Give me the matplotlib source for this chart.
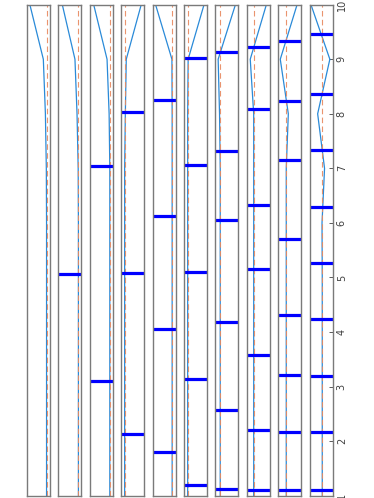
import matplotlib
matplotlib.use("Agg")
from matplotlib import pyplot as plt

# positions along the axis (1..10)
steps = [1, 2, 3, 4, 5, 6, 7, 8, 9, 10]

# reference (dashed) level of every panel
ref_level = [0.85, 0.87, 0.87, 0.15, 0.85, 0.16, 0.21, 0.30, 0.35, 0.55]

# solid curve of every panel, one value per step
curve = [
    [0.85, 0.85, 0.85, 0.85, 0.85, 0.85, 0.84, 0.80, 0.71, 0.125],
    [0.87, 0.87, 0.87, 0.87, 0.87, 0.87, 0.86, 0.81, 0.72, 0.17],
    [0.87, 0.87, 0.87, 0.87, 0.87, 0.87, 0.87, 0.84, 0.75, 0.17],
    [0.15, 0.15, 0.15, 0.15, 0.15, 0.15, 0.15, 0.18, 0.22, 0.87],
    [0.85, 0.85, 0.85, 0.85, 0.85, 0.85, 0.85, 0.85, 0.84, 0.13],
    [0.16, 0.16, 0.16, 0.16, 0.16, 0.16, 0.16, 0.16, 0.18, 0.87],
    [0.21, 0.21, 0.21, 0.21, 0.21, 0.21, 0.21, 0.18, 0.12, 0.87],
    [0.30, 0.30, 0.30, 0.30, 0.30, 0.30, 0.30, 0.30, 0.15, 0.85],
    [0.35, 0.35, 0.35, 0.35, 0.35, 0.35, 0.35, 0.44, 0.09, 0.82],
    [0.55, 0.55, 0.55, 0.55, 0.55, 0.54, 0.65, 0.35, 0.88, 0.06],
]

# blue markers (horizontal bars) of every panel
marks = [
    [],
    [5.06],
    [3.11, 7.05],
    [2.14, 5.08, 8.04],
    [1.81, 4.05, 6.12, 8.26],
    [1.19, 3.14, 5.10, 7.06, 9.03],
    [1.13, 2.58, 4.18, 6.06, 7.32, 9.13],
    [1.10, 2.20, 3.57, 5.15, 6.32, 8.09, 9.23],
    [1.10, 2.17, 3.22, 4.32, 5.70, 7.15, 8.24, 9.33],
    [1.10, 2.16, 3.20, 4.24, 5.27, 6.30, 7.33, 8.37, 9.46],
]

W, H = 374, 498
fig = plt.figure(figsize=(W / 100, H / 100), dpi=100)

left0 = 27.0
step = 31.4
width = 23.0
bottom = 1 - 495.7 / H
height = (495.7 - 4.7) / H

n = len(curve)
for i in range(n):
    ax = fig.add_axes([(left0 + i * step) / W, bottom, width / W, height])
    ax.plot(curve[i], steps, color='#2a8ad8', lw=0.9)
    ax.plot([ref_level[i]] * len(steps), steps, color='#e8895e', lw=0.8,
            dashes=(5, 3), alpha=0.9)
    for m in marks[i]:
        ax.axhline(m, color='#0000ff', lw=2.3)
    ax.set_xlim(0, 1)
    ax.set_ylim(1, 10)
    for s in ax.spines.values():
        s.set_color('#7a7a7a')
        s.set_linewidth(1.0)
    ax.set_xticks([])
    if i == n - 1:
        ax.yaxis.tick_right()
        ax.set_yticks(steps)
        ax.tick_params(axis='y', direction='in', length=3, width=0.6,
                       color='#404040', labelsize=7, labelcolor='#404040',
                       pad=3)
        for lab in ax.get_yticklabels():
            lab.set_rotation(90)
            lab.set_va('center')
    else:
        ax.set_yticks([])

plt.savefig("out.png", dpi=100)
plt.close()
